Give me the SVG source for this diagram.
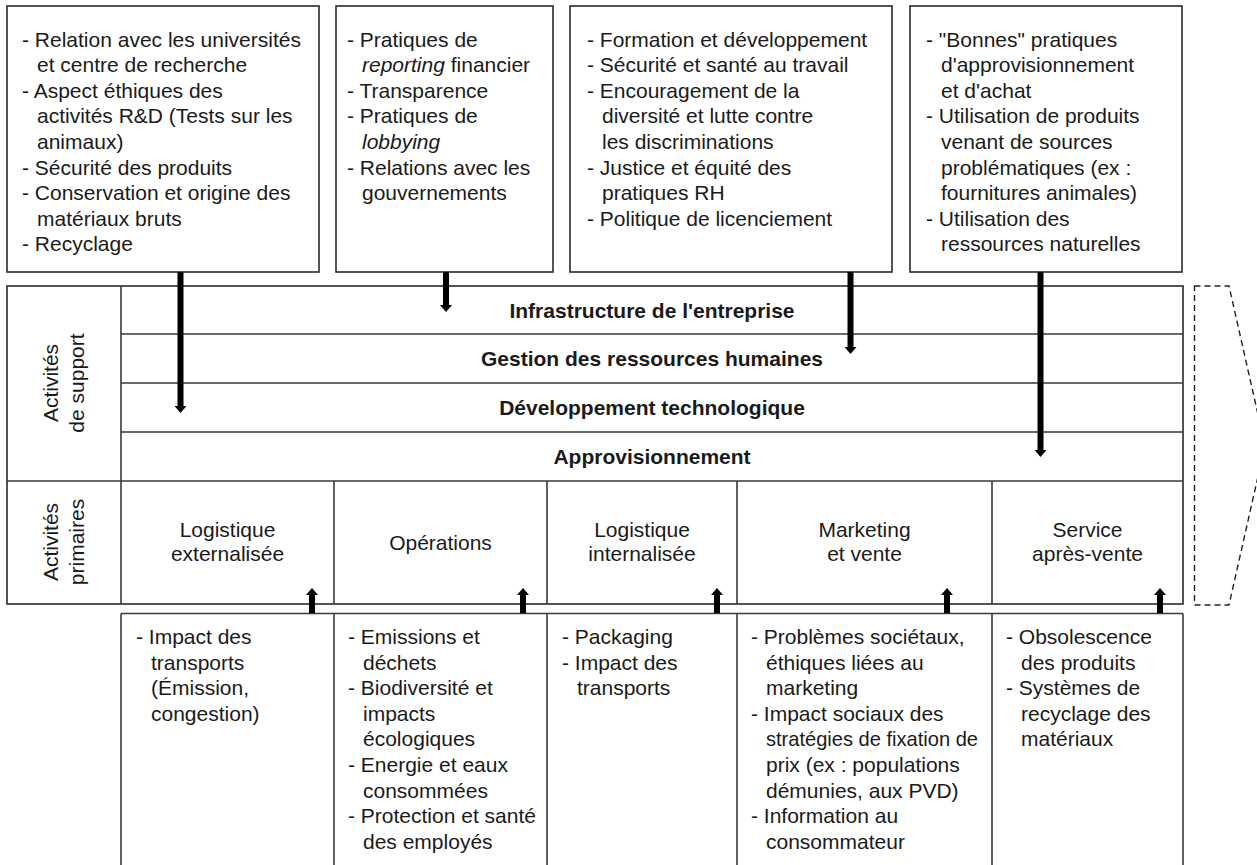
<svg xmlns="http://www.w3.org/2000/svg" width="1257" height="865" viewBox="0 0 1257 865">
<style>
.t{font-family:"Liberation Sans",Arial,sans-serif;font-size:21px;fill:#1a1a1a}
.b{font-weight:bold;text-anchor:middle}
.c{text-anchor:middle}
.i{font-style:italic}
.box{fill:#fff;stroke:#2a2a2a;stroke-width:1.6}
.ln{fill:none;stroke:#3a3a3a;stroke-width:1.6}
.arr{stroke:#000;stroke-width:6;fill:none}
.dash{fill:none;stroke:#222;stroke-width:1.4;stroke-dasharray:6 4}
</style>
<defs>
<marker id="ah" viewBox="0 0 7 12" refX="0" refY="6" markerWidth="7" markerHeight="12" markerUnits="userSpaceOnUse" orient="auto">
<path d="M0,0 L7,6 L0,12 Z" fill="#000"/>
</marker>
</defs>
<rect width="1257" height="865" fill="#fff"/>

<g id="box-rd">
<rect class="box" x="7" y="6" width="312" height="266"/>
<text class="t">
<tspan x="22" y="46.5">- Relation avec les universités</tspan>
<tspan x="37" y="72.1">et centre de recherche</tspan>
<tspan x="22" y="97.7">- Aspect éthiques des</tspan>
<tspan x="37" y="123.3">activités R&amp;D (Tests sur les</tspan>
<tspan x="37" y="148.9">animaux)</tspan>
<tspan x="22" y="174.5">- Sécurité des produits</tspan>
<tspan x="22" y="200.1">- Conservation et origine des</tspan>
<tspan x="37" y="225.7">matériaux bruts</tspan>
<tspan x="22" y="251.3">- Recyclage</tspan>
</text>
</g>

<g id="box-infra">
<rect class="box" x="336" y="6" width="217" height="266"/>
<text class="t">
<tspan x="347" y="46.5">- Pratiques de</tspan>
<tspan x="362" y="72.1"><tspan class="i">reporting</tspan> financier</tspan>
<tspan x="347" y="97.7">- Transparence</tspan>
<tspan x="347" y="123.3">- Pratiques de</tspan>
<tspan x="362" y="148.9" class="i">lobbying</tspan>
<tspan x="347" y="174.5">- Relations avec les</tspan>
<tspan x="362" y="200.1">gouvernements</tspan>
</text>
</g>

<g id="box-rh">
<rect class="box" x="570" y="6" width="322" height="266"/>
<text class="t">
<tspan x="587" y="46.5">- Formation et développement</tspan>
<tspan x="587" y="72.1">- Sécurité et santé au travail</tspan>
<tspan x="587" y="97.7">- Encouragement de la</tspan>
<tspan x="602" y="123.3">diversité et lutte contre</tspan>
<tspan x="602" y="148.9">les discriminations</tspan>
<tspan x="587" y="174.5">- Justice et équité des</tspan>
<tspan x="602" y="200.1">pratiques RH</tspan>
<tspan x="587" y="225.7">- Politique de licenciement</tspan>
</text>
</g>

<g id="box-appro">
<rect class="box" x="910" y="6" width="272" height="266"/>
<text class="t">
<tspan x="926" y="46.5">- "Bonnes" pratiques</tspan>
<tspan x="941" y="72.1">d'approvisionnement</tspan>
<tspan x="941" y="97.7">et d'achat</tspan>
<tspan x="926" y="123.3">- Utilisation de produits</tspan>
<tspan x="941" y="148.9">venant de sources</tspan>
<tspan x="941" y="174.5">problématiques (ex :</tspan>
<tspan x="941" y="200.1">fournitures animales)</tspan>
<tspan x="926" y="225.7">- Utilisation des</tspan>
<tspan x="941" y="251.3">ressources naturelles</tspan>
</text>
</g>

<g id="value-chain">
<rect class="box" x="7" y="286" width="1176" height="318"/>
<path class="ln" d="M121,286 V604 M121,334 H1183 M121,383 H1183 M121,432 H1183 M7,481 H1183 M334,481 V604 M547,481 V604 M737,481 V604 M992,481 V604"/>
<text class="t" transform="translate(58,383) rotate(-90)" text-anchor="middle">Activités</text>
<text class="t" transform="translate(84,383) rotate(-90)" text-anchor="middle">de support</text>
<text class="t" transform="translate(58,542) rotate(-90)" text-anchor="middle">Activités</text>
<text class="t" transform="translate(84,542) rotate(-90)" text-anchor="middle">primaires</text>
<g id="support-rows">
<text class="t b" x="652" y="317.5">Infrastructure de l'entreprise</text>
<text class="t b" x="652" y="366">Gestion des ressources humaines</text>
<text class="t b" x="652" y="415">Développement technologique</text>
<text class="t b" x="652" y="464">Approvisionnement</text>
</g>
<g id="primary-cells">
<text class="t c"><tspan x="227.5" y="537">Logistique</tspan><tspan x="227.5" y="561">externalisée</tspan></text>
<text class="t c" x="440.5" y="549.5">Opérations</text>
<text class="t c"><tspan x="642" y="537">Logistique</tspan><tspan x="642" y="561">internalisée</tspan></text>
<text class="t c"><tspan x="864.5" y="537">Marketing</tspan><tspan x="864.5" y="561">et vente</tspan></text>
<text class="t c"><tspan x="1087.5" y="537">Service</tspan><tspan x="1087.5" y="561">après-vente</tspan></text>
</g>
</g>

<g id="margin-arrow">
<polygon class="dash" points="1194.5,286 1229,286 1265,445.5 1229,605 1194.5,605"/>
</g>

<g id="bottom-boxes">
<path class="ln" d="M121,613.5 H1183 M121,613.5 V866 M334,613.5 V866 M547,613.5 V866 M737,613.5 V866 M992,613.5 V866 M1183,613.5 V866"/>
<g id="box-log-ext">
<text class="t">
<tspan x="136" y="644">- Impact des</tspan>
<tspan x="151" y="669.6">transports</tspan>
<tspan x="151" y="695.2">(Émission,</tspan>
<tspan x="151" y="720.8">congestion)</tspan>
</text>
</g>
<g id="box-ops">
<text class="t">
<tspan x="348" y="644">- Emissions et</tspan>
<tspan x="363" y="669.6">déchets</tspan>
<tspan x="348" y="695.2">- Biodiversité et</tspan>
<tspan x="363" y="720.8">impacts</tspan>
<tspan x="363" y="746.4">écologiques</tspan>
<tspan x="348" y="772">- Energie et eaux</tspan>
<tspan x="363" y="797.6">consommées</tspan>
<tspan x="348" y="823.2">- Protection et santé</tspan>
<tspan x="363" y="848.8">des employés</tspan>
</text>
</g>
<g id="box-log-int">
<text class="t">
<tspan x="562" y="644">- Packaging</tspan>
<tspan x="562" y="669.6">- Impact des</tspan>
<tspan x="577" y="695.2">transports</tspan>
</text>
</g>
<g id="box-marketing">
<text class="t">
<tspan x="751" y="644">- Problèmes sociétaux,</tspan>
<tspan x="766" y="669.6">éthiques liées au</tspan>
<tspan x="766" y="695.2">marketing</tspan>
<tspan x="751" y="720.8">- Impact sociaux des</tspan>
<tspan x="766" y="746.4" textLength="212" lengthAdjust="spacingAndGlyphs">stratégies de fixation de</tspan>
<tspan x="766" y="772">prix (ex : populations</tspan>
<tspan x="766" y="797.6">démunies, aux PVD)</tspan>
<tspan x="751" y="823.2">- Information au</tspan>
<tspan x="766" y="848.8">consommateur</tspan>
</text>
</g>
<g id="box-service">
<text class="t">
<tspan x="1006" y="644">- Obsolescence</tspan>
<tspan x="1021" y="669.6">des produits</tspan>
<tspan x="1006" y="695.2">- Systèmes de</tspan>
<tspan x="1021" y="720.8">recyclage des</tspan>
<tspan x="1021" y="746.4">matériaux</tspan>
</text>
</g>
</g>

<g id="connectors">
<line class="arr" x1="180.5" y1="272" x2="180.5" y2="406" marker-end="url(#ah)"/>
<line class="arr" x1="446" y1="272" x2="446" y2="305" marker-end="url(#ah)"/>
<line class="arr" x1="850.5" y1="272" x2="850.5" y2="347" marker-end="url(#ah)"/>
<line class="arr" x1="1040.5" y1="272" x2="1040.5" y2="450" marker-end="url(#ah)"/>
<line class="arr" x1="312" y1="613" x2="312" y2="595" marker-end="url(#ah)"/>
<line class="arr" x1="523" y1="613" x2="523" y2="595" marker-end="url(#ah)"/>
<line class="arr" x1="717" y1="613" x2="717" y2="595" marker-end="url(#ah)"/>
<line class="arr" x1="947" y1="613" x2="947" y2="595" marker-end="url(#ah)"/>
<line class="arr" x1="1160" y1="613" x2="1160" y2="595" marker-end="url(#ah)"/>
</g>
</svg>
